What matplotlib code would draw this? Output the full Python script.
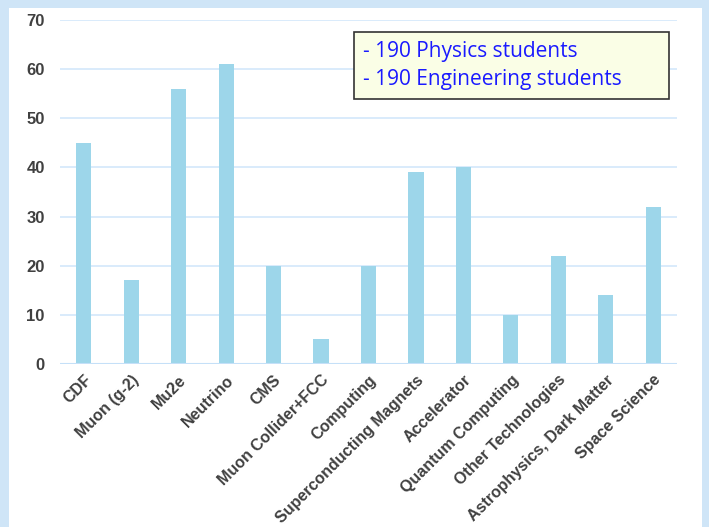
import matplotlib.pyplot as plt
from matplotlib.patches import Rectangle

categories = ['CDF', 'Muon (g-2)', 'Mu2e', 'Neutrino', 'CMS', 'Muon Collider+FCC',
              'Computing', 'Superconducting Magnets', 'Accelerator', 'Quantum Computing',
              'Other Technologies', 'Astrophysics, Dark Matter', 'Space Science']
counts = [45, 17, 56, 61, 20, 5, 20, 39, 40, 10, 22, 14, 32]
note_lines = ['- 190 Physics students', '- 190 Engineering students']

W, H = 709, 527
fig = plt.figure(figsize=(W / 100, H / 100), dpi=100)
fig.patch.set_facecolor('#cfe5f7')

# white panel
fig.add_artist(Rectangle((9 / W, 0), (702 - 9) / W, (527 - 8) / H,
                         transform=fig.transFigure, facecolor='white',
                         edgecolor='none', zorder=0))

ax = fig.add_axes([60 / W, (H - 364) / H, (677 - 60) / W, (364 - 20) / H])
ax.set_facecolor('none')
x = range(len(categories))
ax.bar(x, counts, width=0.32, color='#9dd6ea', zorder=3)
ax.set_xlim(-0.5, len(categories) - 0.5)
ax.set_ylim(0, 70)
ax.set_yticks(range(0, 71, 10))
ax.yaxis.grid(True, color='#d3e7fb', linewidth=1.2, zorder=0)
for s in ax.spines.values():
    s.set_visible(False)
ax.axhline(0, color='#c5e0f8', linewidth=1.5, zorder=4)
ax.tick_params(length=0)
ax.set_xticks(list(x))
ax.set_xticklabels(categories, rotation=45, ha='right', rotation_mode='anchor',
                   fontsize=11.5, fontweight='bold', color='#404040',
                   family='Liberation Sans')
for lab in ax.get_yticklabels():
    lab.set_fontsize(12)
    lab.set_fontweight('bold')
    lab.set_color('#404040')
    lab.set_family('Liberation Sans')
ax.tick_params(axis='y', pad=11)
ax.tick_params(axis='x', pad=6)

# note box
fig.add_artist(Rectangle((354 / W, (H - 99) / H), (669 - 354) / W, (99 - 32) / H,
                         transform=fig.transFigure, facecolor='#fafee6',
                         edgecolor='#333333', linewidth=1.2, zorder=5))
for i, line in enumerate(note_lines):
    fig.text(363 / W, (H - 51 - i * 28) / H, line, fontsize=15, color='#1a1aff',
             family='Open Sans', va='center', zorder=6)

fig.savefig('out.png', dpi=100, facecolor=fig.get_facecolor())
